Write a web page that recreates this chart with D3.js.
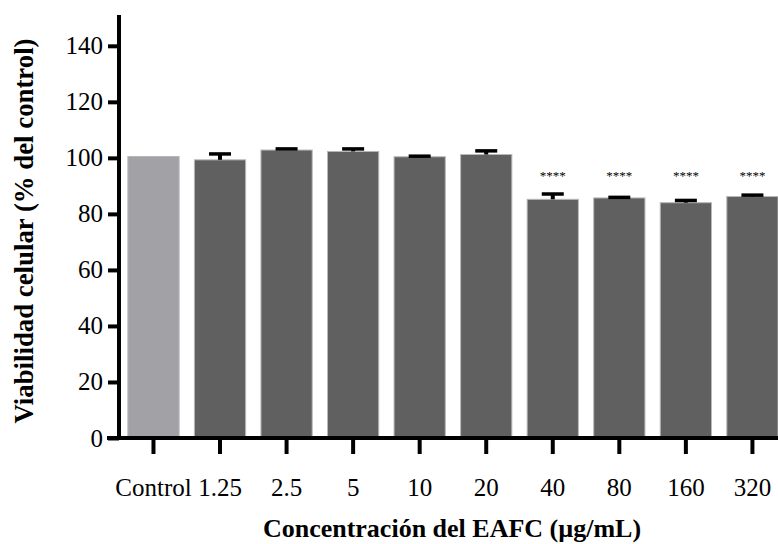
<!DOCTYPE html>
<html>
<head>
<meta charset="utf-8">
<script src="https://cdnjs.cloudflare.com/ajax/libs/d3/7.8.5/d3.min.js"></script>
<style>
    body{margin:0;background:#fff;}
</style>
</head>
<body>
<div id="chart"></div>
<script>
// chart data
var categories=["Control","1.25","2.5","5","10","20","40","80","160","320"];
var means=[100.5,99.3,102.8,102.3,100.4,101.2,85.2,85.7,84.0,86.2];
var errors=[0,2.1,0.4,0.9,0.2,1.3,1.9,0.2,0.8,0.5];
var stars=["","","","","","","****","****","****","****"];
var starLevel=92;
var yTicks=[0,20,40,60,80,100,120,140];

var serif="'Liberation Serif'";
var width=778, height=544;
var svg=d3.select('#chart').append('svg')
    .attr('width',width)
    .attr('height',height);

var y=d3.scaleLinear().domain([0,151]).range([438,15]);
var x=d3.scaleBand().domain(categories)
    .range([120.2,785.7])
    .paddingInner(0.23)
    .paddingOuter(0.115);

var rows=categories.map(function(c,i){
    return {cat:c, mean:means[i], err:errors[i], star:stars[i]};
});
function cx(d){return x(d.cat)+x.bandwidth()/2;}

// bars
svg.selectAll('rect.bar').data(rows)
    .enter().append('rect')
        .attr('class','bar')
        .attr('x',function(d){return x(d.cat);})
        .attr('y',function(d){return y(d.mean);})
        .attr('width',x.bandwidth())
        .attr('height',function(d){return y(0)-y(d.mean);})
        .attr('fill',function(d,i){return i==0?'#a2a1a6':'#606060';})
        .attr('stroke','#b8b8b8')
        .attr('stroke-width',1);

// error bars (upper only)
var capW=22;
var withErr=rows.filter(function(d){return d.err>0;});
svg.selectAll('line.err').data(withErr)
    .enter().append('line')
        .attr('class','err')
        .attr('x1',cx).attr('x2',cx)
        .attr('y1',function(d){return y(d.mean);})
        .attr('y2',function(d){return y(d.mean+d.err);})
        .attr('stroke','#000')
        .attr('stroke-width',4);
svg.selectAll('line.cap').data(withErr)
    .enter().append('line')
        .attr('class','cap')
        .attr('x1',function(d){return cx(d)-capW/2;})
        .attr('x2',function(d){return cx(d)+capW/2;})
        .attr('y1',function(d){return y(d.mean+d.err);})
        .attr('y2',function(d){return y(d.mean+d.err);})
        .attr('stroke','#000')
        .attr('stroke-width',3.5);

// significance stars
svg.selectAll('text.star').data(rows.filter(function(d){return d.star!="";}))
    .enter().append('text')
        .attr('class','star')
        .attr('x',cx)
        .attr('y',y(starLevel))
        .attr('text-anchor','middle')
        .style('font-family',serif)
        .style('font-size','13px')
        .text(function(d){return d.star;});

// y axis
var yAxis=d3.axisLeft(y).tickValues(yTicks).tickSize(11).tickPadding(5);
var gy=svg.append('g').attr('transform','translate(119,0)').call(yAxis);
gy.attr('font-family',null).attr('font-size',null);
gy.select('.domain').remove();
gy.selectAll('.tick line').attr('stroke','#000').attr('stroke-width',4);
gy.selectAll('.tick text').attr('fill','#000')
    .style('font-family',serif).style('font-size','25px');
gy.append('line')
    .attr('x1',0).attr('x2',0)
    .attr('y1',15).attr('y2',y(0)+2)
    .attr('stroke','#000').attr('stroke-width',4);

// x axis
var xAxis=d3.axisBottom(x).tickSize(16).tickPadding(24);
var gx=svg.append('g').attr('transform','translate(0,'+y(0)+')').call(xAxis);
gx.attr('font-family',null).attr('font-size',null);
gx.select('.domain').remove();
gx.selectAll('.tick line').attr('stroke','#000').attr('stroke-width',4);
gx.selectAll('.tick text').attr('fill','#000')
    .style('font-family',serif).style('font-size','25px');
gx.append('line')
    .attr('x1',107).attr('x2',width)
    .attr('y1',0).attr('y2',0)
    .attr('stroke','#000').attr('stroke-width',4);

// titles
svg.append('text')
    .attr('x',452)
    .attr('y',537)
    .attr('text-anchor','middle')
    .style('font-family',serif)
    .style('font-size','26px')
    .style('font-weight','bold')
    .text('Concentración del EAFC (µg/mL)');

svg.append('text')
    .attr('transform','translate(33,231) rotate(-90)')
    .attr('text-anchor','middle')
    .style('font-family',serif)
    .style('font-size','26.8px')
    .style('font-weight','bold')
    .text('Viabilidad celular (% del control)');
</script>
</body>
</html>
